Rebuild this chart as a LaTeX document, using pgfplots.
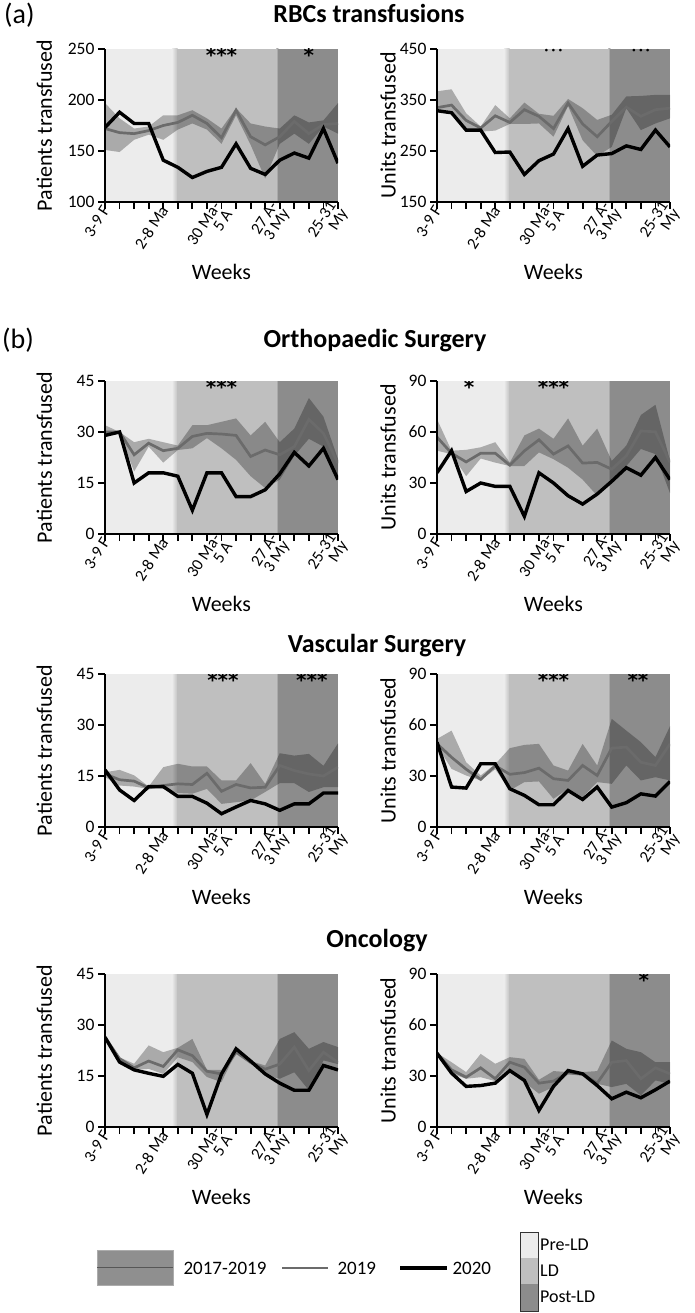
\documentclass[border=0pt]{standalone}
\usepackage{fontspec}
\setmainfont{Carlito}
\newfontfamily\djv{DejaVu Sans}
\usepackage{pgfplots}
\usepackage{pgfplotstable}
\pgfplotsset{compat=1.18}
\usepgfplotslibrary{fillbetween}
\definecolor{preld}{gray}{0.925}
\definecolor{ldc}{gray}{0.75}
\definecolor{postld}{gray}{0.55}
\definecolor{c19}{gray}{0.42}
\definecolor{bandc}{gray}{0.56}

% i = week index (0 = 3-9 Feb ... 16 = 25-31 May)
\pgfplotstableread{
i y20 y19 up lo
0 173 172 197 151
1 188 168 182 149
2 177 167 172 161
3 177 170 174 166
4 141 175 185 161
5 134 178 185 171
6 124 185 190 177
7 130 177 182 171
8 134 163 172 157
9 157 190 192 185
10 133 164 177 156
11 127 156 174 123
12 141 164 172 157
13 148 179 185 167
14 143 167 178 157
15 172 176 180 174
16 138 177 197 167
}\tabAa
\pgfplotstableread{
i y20 y19 up lo
0 329 335 367 330
1 325 340 371 327
2 291 310 324 294
3 291 295 298 288
4 247 319 340 290
5 248 306 314 303
6 204 331 345 303
7 231 318 323 304
8 244 294 319 278
9 294 344 352 338
10 220 303 334 271
11 242 278 311 240
12 245 308 321 258
13 260 336 357 334
14 253 318 358 291
15 291 331 360 304
16 258 334 360 314
}\tabAb
\pgfplotstableread{
i y20 y19 up lo
0 29 30 32 29
1 30 30 30 29.6
2 15 23.3 27 18.4
3 18 26.7 28 25.7
4 18 24.5 27 21
5 17 25.2 26 24.7
6 7 28.7 32 25.2
7 18 29.6 32 28.2
8 18 29.4 33 25.2
9 11 29 34 21.8
10 11 22.8 29 17
11 13 24.7 33 13.5
12 17.7 23.3 27 16
13 24 25.7 31 23
14 20 33.7 40 28
15 25.2 29.6 34.5 25.7
16 16 20.8 22 17
}\tabBa
\pgfplotstableread{
i y20 y19 up lo
0 36 57 67.5 49
1 49 47.5 49 47
2 25 42.4 49.5 34
3 30 47.5 51 44.4
4 28 47.5 54 42
5 28 40.5 42 40
6 10.4 48.9 58 40
7 36 55.4 62 48
8 30 47 56 44
9 22.5 51.8 68 39
10 17.6 41.7 52 32
11 23.5 42.1 62 22.5
12 31 38.1 43 30
13 39 46 52 40
14 34.6 60.6 70 50
15 45 60.1 76 47
16 32 42.1 43 24
}\tabBb
\pgfplotstableread{
i y20 y19 up lo
0 16.8 15.6 16.1 14.7
1 10.9 13.9 16.8 12.2
2 7.8 13.5 15.2 11.9
3 11.9 11.5 11.9 11.2
4 11.9 12.2 17.6 11.2
5 9 12.7 18.6 10
6 9 12.5 17.8 9.8
7 7 15.8 17.8 11.2
8 3.9 10.5 13.7 6.8
9 5.9 12.5 13.7 7.3
10 7.8 11.5 18.8 7.8
11 6.8 11.7 12.7 10.3
12 4.9 18.1 21.7 12.9
13 6.8 16.6 21 12.9
14 6.8 15.6 21.5 10.3
15 10 15 18 11.7
16 10 17.6 24.6 11.7
}\tabCa
\pgfplotstableread{
i y20 y19 up lo
0 49.9 49 51.8 47.9
1 23.5 41 56.7 34.2
2 22.9 34 38.1 30.3
3 37.2 28 30.3 27.4
4 37.2 36 37 34
5 22.5 31 46.4 21.5
6 18.6 32 48.3 26.4
7 13.1 34.6 48.9 26.8
8 13.1 28.4 36.2 16.6
9 21.5 27.4 33.2 22.5
10 16.2 36.2 48.9 17.6
11 23.5 30.3 36.2 26.4
12 11.7 46.4 63.6 25.4
13 14.3 47 56.7 36.2
14 19.5 38.1 49.9 27.4
15 18.2 36.2 41.1 29.3
16 26.8 48.9 59.3 27.4
}\tabCb
\pgfplotstableread{
i y20 y19 up lo
0 26.4 26.4 26.6 25.9
1 19.1 20.1 20.5 19.6
2 16.8 17.4 18.6 16.8
3 15.8 19.4 24 17.1
4 14.9 17.8 22 15.6
5 18.4 22.7 23.3 20.5
6 15.8 21 25.9 19.1
7 3.7 16.4 16.8 14.7
8 15.6 15.6 16.8 13.2
9 23 22 23 22
10 19.4 19 19.4 18.6
11 15.6 17 18.1 15.2
12 12.9 18.5 25.9 14.2
13 10.8 23.5 27.9 16.1
14 10.8 16.6 23 10.8
15 18.1 22 25 19.6
16 16.8 19 23.5 18.5
}\tabDa
\pgfplotstableread{
i y20 y19 up lo
0 43.4 43.4 43.6 42.6
1 31.7 33.6 38.1 31.3
2 23.9 29.3 32.3 28.4
3 24.4 34.8 43 29.3
4 25.8 28.4 37.2 27
5 33.2 38.1 41.1 34.2
6 27.4 35.2 40.1 26.4
7 9.8 25.8 27.8 19.6
8 23.9 27 32.9 23.5
9 33.2 32 32.3 30.9
10 31.3 31 32.3 30.3
11 24.4 25.8 32.9 25.4
12 16.6 38.1 50.9 23.5
13 20.5 39.1 46 25.4
14 17.2 28.4 44 18.6
15 21.9 34.8 38.1 27.4
16 27 31.3 38.1 25.4
}\tabDb

\newcommand{\bgshade}{%
  \begin{pgfonlayer}{axis background}
  \fill[preld] (rel axis cs:0,0) rectangle (rel axis cs:0.29,1);
  \shade[left color=preld, right color=ldc] (rel axis cs:0.2875,0) rectangle (rel axis cs:0.312,1);
  \fill[ldc] (rel axis cs:0.311,0) rectangle (rel axis cs:0.736,1);
  \shade[left color=ldc, right color=postld] (rel axis cs:0.734,0) rectangle (rel axis cs:0.744,1);
  \fill[postld] (rel axis cs:0.743,0) rectangle (rel axis cs:1,1);
  \end{pgfonlayer}
}
\newcommand{\series}[1]{%
  \addplot[name path=up, draw=none, forget plot] table[x=i,y=up]{#1};
  \addplot[name path=lo, draw=none, forget plot] table[x=i,y=lo]{#1};
  \addplot[fill=black, fill opacity=0.28, draw=none] fill between[of=up and lo];
  \addplot[c19, line width=2.7pt] table[x=i,y=y19]{#1};
  \addplot[black, line width=3.4pt] table[x=i,y=y20]{#1};
}
\newcommand{\stars}[2]{\node[anchor=north, inner sep=0pt, yshift=2pt, font=\fontsize{20}{20}\djv\bfseries] at (axis cs:#1) {#2};}

\pgfplotsset{panel/.style={
  set layers,
  scale only axis, width=233pt, height=153pt,
  xmin=0, xmax=16,
  axis x line*=bottom, axis y line*=left,
  axis line style={line width=2.4pt, black},
  every tick/.style={black, line width=1.8pt},
  major tick length=7pt, tick align=outside,
  xtick={0,...,16},
  xticklabels={3-9 F,,,,2-8 Ma,,,,{30 Ma-\\5 A},,,,{27 A-\\3 My},,,,{25-31\\My}},
  xticklabel style={rotate=57, anchor=east, align=right, font=\fontsize{16.5}{14}\selectfont, inner sep=1pt, xshift=3pt},
  yticklabel style={font=\fontsize{17.5}{17.5}\selectfont},
  /pgf/number format/assume math mode=true,
  xlabel={Weeks},
  xlabel style={at={(axis description cs:0.5,-0.46)}, anchor=center, font=\fontsize{22}{22}\selectfont},
  ylabel style={at={(axis description cs:-0.26,0.5)}, anchor=center, font=\fontsize{22}{22}\selectfont},
  axis on top,
}}
\pgfplotsset{pat/.style={ylabel={Patients transfused}}, uni/.style={ylabel={Units transfused}, ylabel style={at={(axis description cs:-0.21,0.5)}}}}

\begin{document}
\begin{tikzpicture}
\path (0,0) rectangle (694pt,-1313pt);

% titles
\node[anchor=base west, inner sep=0, font=\fontsize{28}{28}\selectfont] at (4pt,-24pt) {(a)};
\node[anchor=base, font=\fontsize{26}{26}\selectfont\bfseries] at (369pt,-23pt) {RBCs transfusions};
\node[anchor=base west, inner sep=0, font=\fontsize{28}{28}\selectfont] at (2pt,-348pt) {(b)};
\node[anchor=base, font=\fontsize{26}{26}\selectfont\bfseries] at (375pt,-347pt) {Orthopaedic Surgery};
\node[anchor=base, font=\fontsize{26}{26}\selectfont\bfseries] at (377pt,-652pt) {Vascular Surgery};
\node[anchor=base, font=\fontsize{26}{26}\selectfont\bfseries] at (377pt,-947pt) {Oncology};

% Row a
\begin{axis}[panel, pat, at={(105pt,-202pt)}, anchor=south west, ymin=100, ymax=250, ytick={100,150,200,250}]
\bgshade
\series{\tabAa}
\stars{8,250}{***}
\stars{14,250}{*}
\end{axis}
\begin{axis}[panel, uni, at={(437pt,-202pt)}, anchor=south west, ymin=150, ymax=450, ytick={150,250,350,450}]
\bgshade
\series{\tabAb}
\node[font=\fontsize{14}{14}\selectfont\bfseries, anchor=north, inner sep=0pt] at (axis cs:8,450) {· · ·};
\node[font=\fontsize{14}{14}\selectfont\bfseries, anchor=north, inner sep=0pt] at (axis cs:14,450) {· · ·};
\end{axis}

% Row b1: Orthopaedic
\begin{axis}[panel, pat, at={(105pt,-534pt)}, anchor=south west, ymin=0, ymax=45, ytick={0,15,30,45}]
\bgshade
\series{\tabBa}
\stars{8,45}{***}
\end{axis}
\begin{axis}[panel, uni, at={(437pt,-534pt)}, anchor=south west, ymin=0, ymax=90, ytick={0,30,60,90}]
\bgshade
\series{\tabBb}
\stars{2.2,90}{*}
\stars{8,90}{***}
\end{axis}

% Row 2: Vascular
\begin{axis}[panel, pat, at={(105pt,-827pt)}, anchor=south west, ymin=0, ymax=45, ytick={0,15,30,45}]
\bgshade
\series{\tabCa}
\stars{8.1,45}{***}
\stars{14.2,45}{***}
\end{axis}
\begin{axis}[panel, uni, at={(437pt,-827pt)}, anchor=south west, ymin=0, ymax=90, ytick={0,30,60,90}]
\bgshade
\series{\tabCb}
\stars{8,90}{***}
\stars{13.8,90}{**}
\end{axis}

% Row 3: Oncology
\begin{axis}[panel, pat, at={(105pt,-1127pt)}, anchor=south west, ymin=0, ymax=45, ytick={0,15,30,45}]
\bgshade
\series{\tabDa}
\end{axis}
\begin{axis}[panel, uni, at={(437pt,-1127pt)}, anchor=south west, ymin=0, ymax=90, ytick={0,30,60,90}]
\bgshade
\series{\tabDb}
\stars{14.2,90}{*}
\end{axis}

% legend
\fill[bandc, draw=gray!65] (97pt,-1250pt) rectangle (173pt,-1285pt);
\draw[c19!80!black, line width=1pt] (97pt,-1267.5pt) -- (173pt,-1267.5pt);
\node[anchor=west, font=\fontsize{19}{19}\selectfont] at (180pt,-1268pt) {2017-2019};
\draw[c19, line width=2.7pt] (282pt,-1268pt) -- (328pt,-1268pt);
\node[anchor=west, font=\fontsize{19}{19}\selectfont] at (334pt,-1268pt) {2019};
\draw[black, line width=3.4pt] (400pt,-1268pt) -- (447pt,-1268pt);
\node[anchor=west, font=\fontsize{19}{19}\selectfont] at (449pt,-1268pt) {2020};
\fill[preld] (520pt,-1232pt) rectangle (538pt,-1258pt);
\fill[ldc] (520pt,-1258pt) rectangle (538pt,-1284pt);
\fill[postld] (520pt,-1284pt) rectangle (538pt,-1311pt);
\draw[black!80, line width=0.8pt] (520pt,-1232pt) rectangle (538pt,-1311pt);
\node[anchor=west, inner sep=1pt, font=\fontsize{18}{18}\selectfont] at (539pt,-1245pt) {Pre-LD};
\node[anchor=west, inner sep=1pt, font=\fontsize{18}{18}\selectfont] at (539pt,-1271pt) {LD};
\node[anchor=west, inner sep=1pt, font=\fontsize{18}{18}\selectfont] at (539pt,-1297pt) {Post-LD};
\end{tikzpicture}
\end{document}
